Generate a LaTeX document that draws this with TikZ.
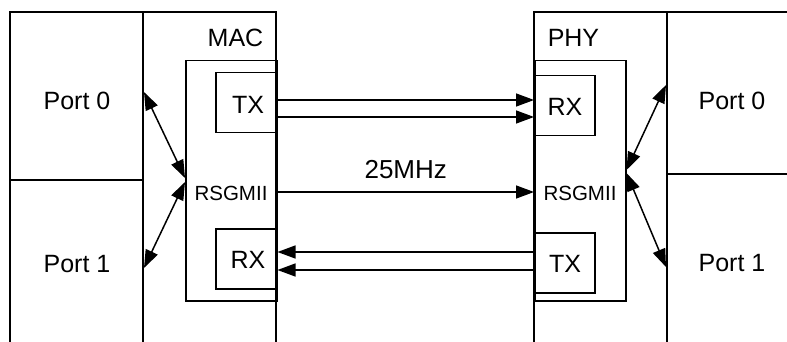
\documentclass[tikz,border=0pt]{standalone}
\usepackage{fontspec}
\setmainfont{Liberation Sans}
\usetikzlibrary{arrows.meta,calc}
\begin{document}
\begin{tikzpicture}[x=1pt,y=-1pt,
  line width=1.5pt,
  blk/.style={draw, inner sep=0pt, anchor=north west},
  lbl/.style={font=\fontsize{25}{29}\selectfont, inner sep=0pt},
  small/.style={font=\fontsize{20.5}{23}\selectfont, inner sep=0pt},
  conn/.style={-{Triangle[length=18pt,width=13pt]}},
  bconn/.style={{Triangle[length=18pt,width=13pt]}-{Triangle[length=18pt,width=13pt]}}]
\useasboundingbox (0,0) rectangle (787,342);
% left side frame
\draw (10,342) -- (10,12) -- (276,12) -- (276,342);
\draw (143,12) -- (143,342);
\draw (10,180) -- (143,180);
% right side frame
\draw (534,342) -- (534,12) -- (787,12);
\draw (667,12) -- (667,342);
\draw (667,174) -- (787,174);
% texts
\node[lbl] (lp0) at (77,101) {Port 0};
\node[lbl] (lp1) at (77,264) {Port 1};
\node[lbl] (rp0) at (732,101) {Port 0};
\node[lbl] (rp1) at (732,263) {Port 1};
\node[lbl, anchor=east] (mac) at (264,38) {MAC};
\node[lbl, anchor=west] (phy) at (547,38) {PHY};
% blocks
\node[blk, minimum width=91pt, minimum height=240pt] (rsL) at (185,60) {};
\node[blk, minimum width=61pt, minimum height=60pt] (txL) at (215,72) {};
\node[blk, minimum width=61pt, minimum height=60pt] (rxL) at (215,228) {};
\node[blk, minimum width=91pt, minimum height=240pt] (rsR) at (534,60) {};
\node[blk, minimum width=60pt, minimum height=60pt] (rxR) at (534,75) {};
\node[blk, minimum width=60pt, minimum height=60pt] (txR) at (534,232) {};
\node[lbl] (txLt) at (248,105) {TX};
\node[lbl] (rxLt) at (248,260) {RX};
\node[lbl] (rxRt) at (565,107) {RX};
\node[lbl] (txRt) at (565,264) {TX};
\node[small] (rsLt) at (231,193) {RSGMII};
\node[small] (rsRt) at (580,193) {RSGMII};
% connectors
\draw[conn] (txL.east |- 0,100) -- (rxR.west |- 0,100);
\draw[conn] (txL.east |- 0,117) -- (rxR.west |- 0,117);
\draw[conn] (rsL.east |- 0,192) -- node[font=\fontsize{26}{30}\selectfont, inner sep=0pt, above=12pt] (freq) {25MHz} (rsR.west |- 0,192);
\draw[conn] (txR.west |- 0,252) -- (rxL.east |- 0,252);
\draw[conn] (txR.west |- 0,270) -- (rxL.east |- 0,270);
% port links
\coordinate (lp0e) at (144,92);
\coordinate (lp1e) at (144,268);
\coordinate (rp0w) at (666,85);
\coordinate (rp1w) at (666,267);
\draw[bconn] (lp0e) -- (rsL.west |- 0,178);
\draw[bconn] (lp1e) -- (rsL.west |- 0,182);
\draw[bconn] (rsR.east |- 0,170) -- (rp0w);
\draw[bconn] (rsR.east |- 0,173) -- (rp1w);
\end{tikzpicture}
\end{document}
